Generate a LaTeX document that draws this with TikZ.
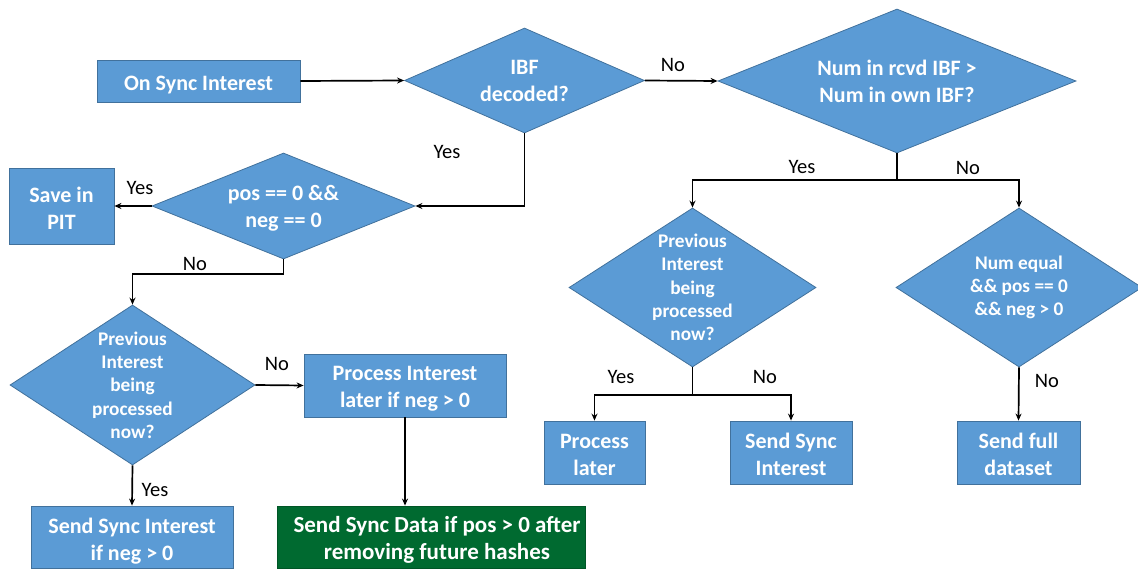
\documentclass[tikz,border=0pt]{standalone}
\usepackage{fontspec}
\setmainfont{Carlito}
\usetikzlibrary{shapes.geometric,arrows.meta}
\definecolor{boxblue}{HTML}{5B9BD5}
\definecolor{boxedge}{HTML}{41719C}
\definecolor{darkgreen}{HTML}{006A30}
\newcommand\bigtxt{\fontsize{22}{27}\selectfont\bfseries}
\newcommand\greentxt{\fontsize{23}{27}\selectfont\bfseries}
\newcommand\smalltxt{\fontsize{19.3}{23.3}\selectfont\bfseries}
\newcommand\lbltxt{\fontsize{20.5}{24}\selectfont}
% lower a (possibly multi-line) text without changing its box
\newcommand\lowtxt[2][3pt]{\raisebox{-#1}[\height][\depth]{\begin{tabular}{@{}c@{}}#2\end{tabular}}}
\begin{document}
\begin{tikzpicture}[x=1pt,y=-1pt,
  blk/.style={draw=boxedge, fill=boxblue, line width=0.8pt, text=white, font=\bigtxt, align=center, inner sep=0pt, minimum width=#1},
  dia/.style={diamond, draw=boxedge, fill=boxblue, line width=0.8pt, inner sep=0pt, aspect=1},
  dtxt/.style={text=white, align=center, inner sep=0pt},
  lbl/.style={font=\lbltxt, inner sep=0pt},
  arr/.style={-{Stealth[length=7pt,width=6pt]}, line width=1.7pt, black},
  ln/.style={line width=1.7pt, black}
]
\useasboundingbox (0,0) rectangle (1138,569);

% boxes
\node[blk=203pt, minimum height=42pt] (on) at (198.5,81) {\lowtxt[4pt]{On Sync Interest}};
\node[blk=105pt, minimum height=76pt] (pit) at (61.5,206) {\lowtxt[5pt]{Save in\\PIT}};
\node[blk=202pt, minimum height=63pt] (proc) at (405,385.5) {\lowtxt[3.5pt]{Process Interest\\later if neg > 0}};
\node[blk=202pt, minimum height=62pt] (ssi) at (132,537) {\lowtxt[5pt]{Send Sync Interest\\if neg > 0}};
\node[blk=308pt, minimum height=62pt, fill=darkgreen, draw=darkgreen!80!black, font=\greentxt] (green) at (431,537) {\lowtxt[4pt]{\hspace*{12pt}Send Sync Data if pos > 0 after\\\hspace*{12pt}removing future hashes}};
\node[blk=101pt, minimum height=63pt] (plater) at (594.5,452.5) {\lowtxt[4pt]{Process\\later}};
\node[blk=122pt, minimum height=63pt] (ssi2) at (791,452.5) {\lowtxt[4pt]{Send Sync\\Interest}};
\node[blk=123pt, minimum height=63pt] (full) at (1018.5,452.5) {\lowtxt[4pt]{Send full\\dataset}};

% diamonds
\node[dia, minimum width=240pt, minimum height=105pt] (ibf) at (524.5,80.5) {};
\node[dtxt, font=\bigtxt] (ibft) at (ibf) {IBF\\decoded?};
\node[dia, minimum width=358pt, minimum height=144pt] (num) at (897,81) {};
\node[dtxt, font=\bigtxt] (numt) at (num) {Num in rcvd IBF >\\Num in own IBF?};
\node[dia, minimum width=263pt, minimum height=106pt] (pos) at (283.5,206) {};
\node[dtxt, font=\bigtxt] (post) at ([yshift=-2pt]pos.center) {pos == 0 \&\&\\neg == 0};
\node[dia, minimum width=245pt, minimum height=160pt] (prev1) at (132.5,385) {};
\node[dtxt, font=\smalltxt] (prev1t) at (prev1) {Previous\\Interest\\being\\processed\\now?};
\node[dia, minimum width=247pt, minimum height=159pt] (prev2) at (692.5,287.5) {};
\node[dtxt, font=\smalltxt] (prev2t) at (prev2) {Previous\\Interest\\being\\processed\\now?};
\node[dia, minimum width=246pt, minimum height=159pt] (numeq) at (1019,287.5) {};
\node[dtxt, font=\smalltxt] (numeqt) at (numeq) {Num equal\\\&\& pos == 0\\\&\& neg > 0};

% junctions
\coordinate (j1) at (897,180);
\coordinate (j2) at (283.5,274);
\coordinate (j3) at (692.5,395);

% connectors
\draw[arr] (on.east) -- (ibf.west);
\draw[arr] (ibf.east) -- (num.west);
\draw[ln] (num.south) -- (j1);
\draw[arr] (j1) -| (prev2.north);
\draw[arr] (j1) -| (numeq.north);
\draw[arr] (ibf.south) |- (pos.east);
\draw[arr] (pos.west) -- (pit.east);
\draw[ln] (pos.south) -- (j2);
\draw[arr] (j2) -| (prev1.north);
\draw[arr] (prev1.east) -- (proc.west);
\draw[arr] (proc.south) -- (proc.south |- green.north);
\draw[arr] (prev1.south) -- (ssi.north);
\draw[ln] (prev2.south) -- (j3);
\draw[arr] (j3) -| (plater.north);
\draw[arr] (j3) -| (ssi2.north);
\draw[arr] (numeq.south) -- (full.north);

% labels
\node[lbl] (l1) at (673,65) {No};
\node[lbl] (l2) at (447,152) {Yes};
\node[lbl] (l3) at (802,167) {Yes};
\node[lbl] (l4) at (968,168) {No};
\node[lbl] (l5) at (140,188) {Yes};
\node[lbl] (l6) at (195,264) {No};
\node[lbl] (l7) at (277,364) {No};
\node[lbl] (l8) at (155,490) {Yes};
\node[lbl] (l9) at (621,377) {Yes};
\node[lbl] (l10) at (765,377) {No};
\node[lbl] (l11) at (1047,381) {No};
\end{tikzpicture}
\end{document}
